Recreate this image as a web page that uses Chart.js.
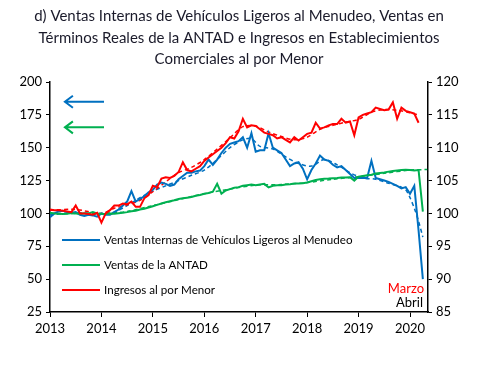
<!DOCTYPE html>
<html lang="es">
<head>
<meta charset="UTF-8">
<title>Ventas e Ingresos</title>
<script src="https://cdn.jsdelivr.net/npm/chart.js"></script>
<style>
  body { margin: 0; background: #fff; }
</style>
</head>
<body>
<canvas id="grafica" width="487" height="367"></canvas>
<script>
  // series mensuales, enero 2013 en adelante
  const anioInicio = 2013;
  const yearTicks = [2013, 2014, 2015, 2016, 2017, 2018, 2019, 2020];

  // Ventas internas de vehiculos ligeros (eje izq.), ene-2013 .. abr-2020
  const vehiculos = [
    97, 100, 101.5, 102, 101, 100.5, 101, 99, 98, 99, 98.5, 97.5,
    100, 99, 99, 101, 103, 106, 109, 117, 109, 111, 113, 116,
    118, 122, 123.5, 122.5, 121, 122, 126, 128.5, 131, 131, 132, 132.6,
    136, 141, 137, 141, 146, 150, 153, 154, 155, 158, 150, 161,
    147, 148, 148, 161, 150, 148, 146, 141, 136, 138, 139, 134,
    126, 133, 138, 144, 141, 140, 137, 135, 136, 133, 130, 127,
    127, 127, 127, 140, 127, 126, 125, 124, 122.5, 121, 119, 120,
    115, 121, 87, 50
  ];
  // Ventas de la ANTAD (eje izq.), ene-2013 .. abr-2020
  const antad = [
    100.5, 100, 99.8, 99.5, 99.8, 100.3, 100, 99.7, 100.2, 100, 101, 100,
    99.7, 99.5, 100, 99.8, 100.2, 100.5, 101, 101.7, 102, 103, 103.5, 104.5,
    105.5, 106.5, 107.5, 108.5, 109.3, 110, 111, 111.5, 112, 112.5, 113.5, 114,
    115, 115.5, 116.5, 122.5, 115, 117.5, 118.5, 119.5, 120, 121, 121.5, 122,
    121.5, 122, 122.5, 119.8, 121, 121.5, 121.5, 122, 122.2, 122.7, 122.8, 123,
    123.5, 124.5, 125.5, 126, 126.3, 126.5, 126.8, 127, 127.3, 127.3, 127.5, 125,
    128, 128.5, 129, 129.5, 130.3, 130.8, 131.2, 131.8, 132.2, 132.6, 133, 133.3,
    133, 132.6, 133, 101.3
  ];
  // Ingresos al por menor (eje der.), ene-2013 .. mar-2020
  const ingresos = [
    100.6, 100.5, 100.5, 100.4, 100.3, 100.2, 101.2, 100, 100, 99.9, 99.8, 100.1,
    98.6, 100, 100.5, 101.2, 101.2, 101.5, 101.4, 101.8, 101, 101, 102.3, 102.8,
    104.2, 104, 105.3, 105.5, 105.4, 105.7, 106.3, 107.8, 106.6, 106.4, 106.8, 107.2,
    108, 108.5, 109, 109.5, 110, 110.7, 111.6, 111.4, 112.5, 114.4, 113.1, 113.4,
    113.3, 112.8, 112.3, 112.1, 111.9, 111.4, 111.6, 111.2, 110.8, 111.6, 111.1, 111.6,
    112.1, 112.3, 113.8, 112.9, 113.1, 113.4, 113.6, 113.6, 114.4, 113.8, 114, 111.9,
    114.6, 115, 115.2, 115.4, 116.1, 115.9, 115.7, 115.8, 116.9, 114.4, 116.1, 115.6,
    115.4, 115.2, 113.8
  ];

  // tendencias (mes desde ene-2013, valor)
  const tendVehMes = [0, 6, 12, 15, 18, 21, 24, 27, 30, 33, 36, 39, 42, 45, 47, 49, 52, 55, 58, 61, 64, 67, 70, 73, 76, 79, 82, 83, 84, 85, 86, 87];
  const tendVeh = [99, 100.5, 99.5, 101, 106, 112, 117, 121, 125, 129, 133, 141, 150, 156, 157, 151, 149, 143, 138, 136, 141, 137, 131, 127, 126, 123, 120, 118, 112, 104, 94, 82];
  const tendAntadMes = [0, 12, 18, 24, 30, 36, 42, 48, 54, 60, 66, 72, 78, 84, 88];
  const tendAntad = [100, 100, 101.5, 106, 110.5, 115, 118.5, 121.5, 122, 123.5, 126, 128, 130.5, 133, 133.4];
  const tendIngMes = [0, 6, 12, 15, 18, 21, 24, 27, 30, 33, 36, 39, 42, 45, 48, 51, 54, 57, 60, 63, 66, 69, 72, 75, 78, 81, 84, 86];
  const tendIng = [100.5, 100.6, 100, 100.8, 101.3, 102, 103.3, 104.8, 106.2, 107, 108.2, 109.8, 111.5, 113.2, 113.3, 112.4, 111.7, 111.2, 111.6, 112.8, 113.4, 113.9, 114.3, 115.4, 115.8, 115.7, 115.3, 115];

  const etiquetas = [
    'Ventas Internas de Vehículos Ligeros al Menudeo',
    'Ventas de la ANTAD',
    'Ingresos al por Menor'
  ];
  const titulo = [
    'd) Ventas Internas de Vehículos Ligeros al Menudeo, Ventas en',
    'Términos Reales de la ANTAD e Ingresos en Establecimientos',
    'Comerciales al por Menor'
  ];

  const AZUL = '#0070C0', VERDE = '#00B050', ROJO = '#FF0000';
  const FUENTE = 'Lato, "Open Sans", sans-serif';

  const aPuntos = (vals, meses) => vals.map((v, i) => ({ x: anioInicio + (meses ? meses[i] : i) / 12, y: v }));

  // titulo, flechas, leyenda y notas
  const extras = {
    id: 'extras',
    afterDatasetsDraw(chart) {
      const ctx = chart.ctx;
      const a = chart.chartArea;
      const sx = chart.scales.x, sy = chart.scales.y;
      ctx.save();

      ctx.fillStyle = '#1a1a2a';
      ctx.font = '15px ' + FUENTE;
      ctx.textAlign = 'center';
      ctx.textBaseline = 'alphabetic';
      const cx = (a.left + a.right) / 2;
      titulo.forEach((t, i) => ctx.fillText(t, cx, 21 + i * 21.7));

      // flechas hacia el eje izquierdo
      [[185, AZUL], [165.5, VERDE]].forEach(([v, c]) => {
        const y = sy.getPixelForValue(v);
        const x0 = sx.getPixelForValue(2013.29), x1 = sx.getPixelForValue(2014.05);
        ctx.strokeStyle = c;
        ctx.lineWidth = 2;
        ctx.beginPath();
        ctx.moveTo(x1, y); ctx.lineTo(x0, y);
        ctx.moveTo(x0 + 8, y - 6); ctx.lineTo(x0, y); ctx.lineTo(x0 + 8, y + 6);
        ctx.stroke();
      });

      // leyenda
      ctx.font = '11.6px ' + FUENTE;
      ctx.textAlign = 'left';
      ctx.textBaseline = 'middle';
      [AZUL, VERDE, ROJO].forEach((c, i) => {
        const y = a.bottom - 72 + i * 25;
        ctx.strokeStyle = c;
        ctx.lineWidth = 2;
        ctx.beginPath();
        ctx.moveTo(a.left + 12, y); ctx.lineTo(a.left + 50, y);
        ctx.stroke();
        ctx.fillStyle = '#000';
        ctx.fillText(etiquetas[i], a.left + 54, y);
      });

      ctx.font = '13px ' + FUENTE;
      ctx.textAlign = 'right';
      ctx.fillStyle = ROJO;
      ctx.fillText('Marzo', a.right - 4, a.bottom - 23);
      ctx.fillStyle = '#000';
      ctx.fillText('Abril', a.right - 5, a.bottom - 9);
      ctx.restore();
    }
  };

  const linea = (data, color, eje, orden) => ({
    data, borderColor: color, backgroundColor: color, yAxisID: eje,
    borderWidth: 2, pointRadius: 0, tension: 0, order: orden
  });
  const tendencia = (data, color, eje, orden) => ({
    data, borderColor: color, yAxisID: eje, borderWidth: 1.5,
    borderDash: [4, 3], pointRadius: 0, tension: 0.3, order: orden
  });

  const ejeY = (min, max, paso, pos, ancho) => ({
    type: 'linear', position: pos, min, max,
    ticks: { stepSize: paso, color: '#000', font: { family: FUENTE, size: 13 }, padding: 4 },
    grid: { drawOnChartArea: false, drawTicks: true, tickLength: 4, color: '#000' },
    border: { color: '#000', width: 1.5 },
    afterFit: s => { s.width = ancho; }
  });

  new Chart(document.getElementById('grafica'), {
    type: 'line',
    data: {
      datasets: [
        tendencia(aPuntos(tendVeh, tendVehMes), AZUL, 'y', 6),
        tendencia(aPuntos(tendAntad, tendAntadMes), VERDE, 'y', 5),
        tendencia(aPuntos(tendIng, tendIngMes), ROJO, 'y2', 4),
        linea(aPuntos(vehiculos), AZUL, 'y', 3),
        linea(aPuntos(antad), VERDE, 'y', 2),
        linea(aPuntos(ingresos), ROJO, 'y2', 1)
      ]
    },
    options: {
      responsive: false,
      animation: false,
      layout: { padding: { top: 82, left: 0, right: 0, bottom: 0 } },
      plugins: { legend: { display: false }, tooltip: { enabled: false }, title: { display: false } },
      scales: {
        x: {
          type: 'linear', min: 2013, max: 2020.35,
          afterBuildTicks: s => { s.ticks = yearTicks.map(v => ({ value: v })); },
          ticks: { color: '#000', font: { family: FUENTE, size: 13 }, padding: 4, callback: v => String(v), maxRotation: 0 },
          grid: { drawOnChartArea: false, drawTicks: true, tickLength: 5, color: '#000' },
          border: { color: '#000', width: 1.5 },
          afterFit: s => { s.height = 55; }
        },
        y: ejeY(25, 200, 25, 'left', 50),
        y2: ejeY(85, 120, 5, 'right', 59)
      }
    },
    plugins: [extras]
  });
</script>
</body>
</html>
